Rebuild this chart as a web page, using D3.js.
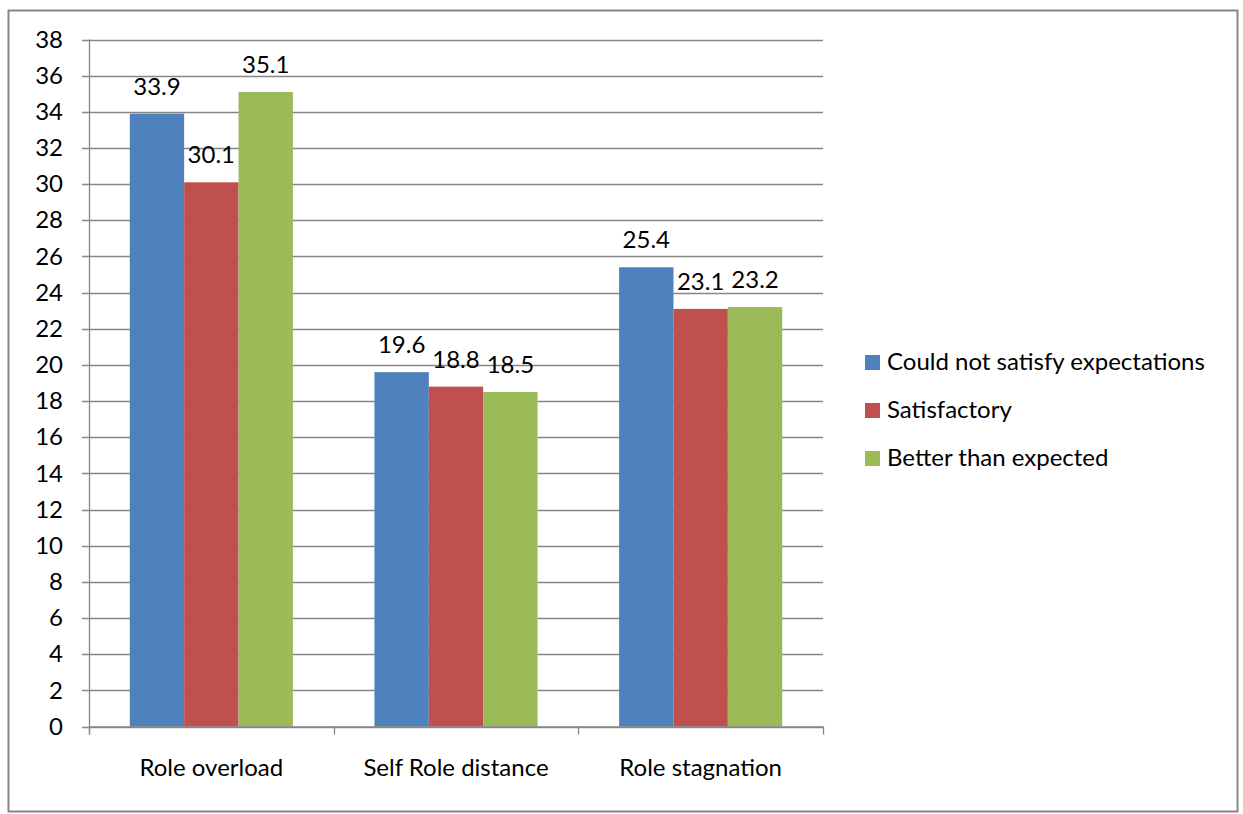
<!DOCTYPE html>
<html>
<head>
<meta charset="utf-8">
<script src="https://cdn.jsdelivr.net/npm/d3@7"></script>
<style>
  html, body { margin: 0; padding: 0; background: #fff; }
  svg text { font-family: Lato, "Noto Sans", sans-serif; fill: #000; }
</style>
</head>
<body>
<svg id="chart" width="1243" height="814"></svg>
<script>
// Mean scores per role-stress dimension, grouped by outcome rating
const categories = ["Role overload", "Self Role distance", "Role stagnation"];
const seriesNames = ["Could not satisfy expectations", "Satisfactory", "Better than expected"];
const couldNotSatisfy = [33.9, 19.6, 25.4];
const satisfactory = [30.1, 18.8, 23.1];
const betterThanExpected = [35.1, 18.5, 23.2];
const yTicks = [0, 2, 4, 6, 8, 10, 12, 14, 16, 18, 20, 22, 24, 26, 28, 30, 32, 34, 36, 38];
const colors = ["#4F81BD", "#C0504D", "#9BBB59"];

const seriesValues = [couldNotSatisfy, satisfactory, betterThanExpected];
const fontSize = 24;

const svg = d3.select("#chart");

// outer chart frame
svg.append("rect")
  .attr("x", 8.5).attr("y", 10.5)
  .attr("width", 1229).attr("height", 801)
  .attr("fill", "#fff").attr("stroke", "#868686").attr("stroke-width", 2);

const plot = { left: 89, right: 823, top: 39.5, bottom: 726.5 };

const x0 = d3.scaleBand()
  .domain(categories)
  .range([plot.left, plot.right])
  .paddingInner(0).paddingOuter(0);

// 150% gap width: bars occupy 3 of 4.5 slots
const x1 = d3.scaleBand()
  .domain(d3.range(seriesNames.length))
  .range([x0.bandwidth() * 0.75 / 4.5, x0.bandwidth() - x0.bandwidth() * 0.75 / 4.5])
  .paddingInner(0).paddingOuter(0);

const y = d3.scaleLinear().domain([0, 38]).range([plot.bottom, plot.top]);

// horizontal gridlines
svg.append("g")
  .selectAll("line")
  .data(yTicks)
  .join("line")
  .attr("x1", plot.left - 7).attr("x2", plot.right)
  .attr("y1", d => Math.round(y(d)) + 0.5).attr("y2", d => Math.round(y(d)) + 0.5)
  .attr("stroke", "#868686").attr("stroke-width", 1.3);

// y axis labels
const yAxis = d3.axisLeft(y).tickValues(yTicks).tickSize(0).tickPadding(0);
const yg = svg.append("g").attr("transform", `translate(${plot.left - 26},0)`).call(yAxis);
yg.select(".domain").remove();
yg.selectAll("text")
  .attr("font-size", fontSize)
  .attr("font-family", "Lato, 'Noto Sans', sans-serif")
  .attr("fill", "#000");

// y axis line
svg.append("line")
  .attr("x1", plot.left + 0.5).attr("x2", plot.left + 0.5)
  .attr("y1", plot.top).attr("y2", plot.bottom + 8)
  .attr("stroke", "#868686").attr("stroke-width", 1.3);

// bars
const groups = svg.append("g")
  .selectAll("g")
  .data(categories)
  .join("g")
  .attr("transform", d => `translate(${x0(d)},0)`);

groups.selectAll("rect")
  .data((d, i) => seriesValues.map((vals, s) => ({ s, v: vals[i] })))
  .join("rect")
  .attr("x", d => x1(d.s))
  .attr("width", x1.bandwidth())
  .attr("y", d => y(d.v))
  .attr("height", d => y(0) - y(d.v))
  .attr("fill", d => colors[d.s]);

// value labels
groups.selectAll("text.value")
  .data((d, i) => seriesValues.map((vals, s) => ({ s, v: vals[i] })))
  .join("text")
  .attr("class", "value")
  .attr("x", d => x1(d.s) + x1.bandwidth() / 2)
  .attr("y", d => y(d.v) - 19)
  .attr("text-anchor", "middle")
  .attr("font-size", fontSize)
  .text(d => d.v.toFixed(1));

// x axis line and ticks
svg.append("line")
  .attr("x1", plot.left).attr("x2", plot.right)
  .attr("y1", plot.bottom + 0.5).attr("y2", plot.bottom + 0.5)
  .attr("stroke", "#868686").attr("stroke-width", 1.3);

const xTickPos = categories.map(c => x0(c)).concat([x0.range()[1]]);
svg.append("g")
  .selectAll("line")
  .data(xTickPos)
  .join("line")
  .attr("x1", d => Math.round(d) + 0.5).attr("x2", d => Math.round(d) + 0.5)
  .attr("y1", plot.bottom).attr("y2", plot.bottom + 8)
  .attr("stroke", "#868686").attr("stroke-width", 1.3);

// category labels
svg.append("g")
  .selectAll("text")
  .data(categories)
  .join("text")
  .attr("x", d => x0(d) + x0.bandwidth() / 2)
  .attr("y", 776)
  .attr("text-anchor", "middle")
  .attr("font-size", fontSize)
  .text(d => d);

// legend
const legend = svg.append("g")
  .selectAll("g")
  .data(seriesNames)
  .join("g")
  .attr("transform", (d, i) => `translate(865,${355 + i * 48})`);

legend.append("rect")
  .attr("width", 15).attr("height", 15)
  .attr("fill", (d, i) => colors[i]);

legend.append("text")
  .attr("x", 22).attr("y", 15)
  .attr("font-size", fontSize)
  .text(d => d);
</script>
</body>
</html>
